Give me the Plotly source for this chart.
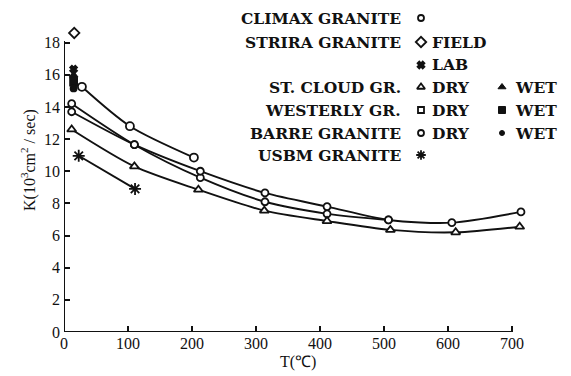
import plotly.graph_objects as go

# ---- data (T in °C, K in 10^-3 cm^2/sec) ----
climax_T = [28, 103, 203]
climax_K = [15.25, 12.8, 10.85]

strira_field_T = [16]
strira_field_K = [18.6]

lab_T = [15]
lab_K = [16.35]

stcloud_dry_T = [12, 110, 210, 313, 411, 510, 612, 712]
stcloud_dry_K = [12.6, 10.3, 8.85, 7.55, 6.9, 6.35, 6.2, 6.55]
stcloud_wet_T = [15]
stcloud_wet_K = [15.95]

westerly_dry_T = [12, 110, 213, 314, 411, 507]
westerly_dry_K = [14.2, 11.65, 9.6, 8.1, 7.35, 6.97]
westerly_wet_T = [15]
westerly_wet_K = [15.55]

barre_dry_T = [12, 110, 213, 314, 411, 507, 606, 714]
barre_dry_K = [13.7, 11.65, 10.0, 8.65, 7.8, 6.97, 6.8, 7.47]
barre_wet_T = [15]
barre_wet_K = [15.15]

usbm_T = [23, 111]
usbm_K = [10.96, 8.9]

x_ticks = [0, 100, 200, 300, 400, 500, 600, 700]
y_ticks = [0, 2, 4, 6, 8, 10, 12, 14, 16, 18]
x_axis_end = 700
y_axis_end = 18.1

legend_rows = [
    ("CLIMAX GRANITE", "", ""),
    ("STRIRA GRANITE", "FIELD", ""),
    ("", "LAB", ""),
    ("ST. CLOUD GR.", "DRY", "WET"),
    ("WESTERLY GR.", "DRY", "WET"),
    ("BARRE GRANITE", "DRY", "WET"),
    ("USBM GRANITE", "", ""),
]

# ---- layout geometry (pixels) ----
W, H = 571, 376
L, R, T, B = 64, 11, 6, 44
PW, PH = W - L - R, H - T - B
X_PER_PX = 700 / 448.0      # data units per pixel (x)
Y_PER_PX = 18.1 / 291.0     # data units per pixel (y)

def px(x):
    return (x - L) / PW

def py(y):
    return (H - B - y) / PH

BLACK = "#111"
fig = go.Figure()

def line(xs, ys, sym, size=8, lw=1.9, shape="spline", mode="lines+markers", filled=False):
    fig.add_trace(go.Scatter(
        x=xs, y=ys, mode=mode, cliponaxis=False,
        line=dict(color=BLACK, width=lw, shape=shape, smoothing=0.8),
        marker=dict(symbol=sym, size=size, color=BLACK if filled else "white",
                    line=dict(color=BLACK, width=1.8)),
        showlegend=False, hoverinfo="skip"))

line(climax_T, climax_K, "circle", 8)
line(westerly_dry_T, westerly_dry_K, "circle", 7)
line(barre_dry_T, barre_dry_K, "circle", 7)
line(stcloud_dry_T, stcloud_dry_K, "triangle-up", 8)
line(usbm_T, usbm_K, "asterisk-open", 10, shape="linear", filled=True)
line(strira_field_T, strira_field_K, "diamond", 8, mode="markers")
line(lab_T, lab_K, "x", 6, mode="markers", filled=True)
line(stcloud_wet_T, stcloud_wet_K, "triangle-up", 7, mode="markers", filled=True)
line(westerly_wet_T, westerly_wet_K, "square", 7, mode="markers", filled=True)
line(barre_wet_T, barre_wet_K, "circle", 6, mode="markers", filled=True)

# ---- legend (drawn on an overlay axis in pixel units) ----
row_y = [18, 42, 65, 87, 110, 133, 155]
col1_sym = [("circle-open", 6), ("diamond-open", 8), ("x", 6), ("triangle-up-open", 7),
            ("square-open", 6), ("circle-open", 6), ("asterisk-open", 8)]
col2_sym = [None, None, None, ("triangle-up", 7), ("square", 7), ("circle", 5), None]

for i, (s, sz) in enumerate(col1_sym):
    fig.add_trace(go.Scatter(x=[421], y=[row_y[i]], xaxis="x2", yaxis="y2", mode="markers",
                             cliponaxis=False, showlegend=False, hoverinfo="skip",
                             marker=dict(symbol=s, size=sz, color=BLACK,
                                         line=dict(color=BLACK, width=1.8))))
for i, c in enumerate(col2_sym):
    if c is None:
        continue
    s, sz = c
    fig.add_trace(go.Scatter(x=[502], y=[row_y[i]], xaxis="x2", yaxis="y2", mode="markers",
                             cliponaxis=False, showlegend=False, hoverinfo="skip",
                             marker=dict(symbol=s, size=sz, color=BLACK,
                                         line=dict(color=BLACK, width=1))))

LFONT = dict(family="DejaVu Serif", size=15.5, color=BLACK)
ann = []
for i, (name, c1, c2) in enumerate(legend_rows):
    if name:
        ann.append(dict(x=px(403), y=py(row_y[i]), xref="paper", yref="paper", text="<b>%s</b>" % name,
                        xanchor="right", yanchor="middle", showarrow=False, font=LFONT))
    if c1:
        ann.append(dict(x=px(430), y=py(row_y[i]), xref="paper", yref="paper", text="<b>%s</b>" % c1,
                        xanchor="left", yanchor="middle", showarrow=False, font=LFONT))
    if c2:
        ann.append(dict(x=px(513), y=py(row_y[i]), xref="paper", yref="paper", text="<b>%s</b>" % c2,
                        xanchor="left", yanchor="middle", showarrow=False, font=LFONT))

TFONT = dict(family="Liberation Serif", size=16, color=BLACK)
ann.append(dict(x=px(28), y=py(160), xref="paper", yref="paper",
                text="K(10<sup>3</sup>cm<sup>2</sup> / sec)", textangle=-90,
                xanchor="center", yanchor="middle", showarrow=False, font=TFONT))
ann.append(dict(x=px(298), y=py(362), xref="paper", yref="paper", text="T(℃)",
                xanchor="center", yanchor="middle", showarrow=False, font=TFONT))

shapes = [
    dict(type="line", xref="x", yref="y", x0=0, x1=x_axis_end, y0=0, y1=0,
         line=dict(color=BLACK, width=2)),
    dict(type="line", xref="x", yref="y", x0=0, x1=0, y0=0, y1=y_axis_end,
         line=dict(color=BLACK, width=2)),
]

x_max = PW * X_PER_PX
y_max = PH * Y_PER_PX

fig.update_layout(
    width=W, height=H, margin=dict(l=L, r=R, t=T, b=B),
    paper_bgcolor="white", plot_bgcolor="white",
    annotations=ann, shapes=shapes,
    xaxis=dict(range=[0, x_max], tickvals=x_ticks, ticktext=[str(v) for v in x_ticks],
               showgrid=False, zeroline=False, showline=False,
               ticks="inside", ticklen=6, tickwidth=1.5, tickcolor=BLACK,
               tickfont=TFONT, fixedrange=True),
    yaxis=dict(range=[0, y_max], tickvals=y_ticks, ticktext=[str(v) for v in y_ticks],
               showgrid=False, zeroline=False, showline=False,
               ticks="inside", ticklen=6, tickwidth=1.5, tickcolor=BLACK,
               tickfont=TFONT, fixedrange=True, ticklabelstandoff=3),
    xaxis2=dict(overlaying="x", range=[L, W - R], visible=False, fixedrange=True),
    yaxis2=dict(overlaying="y", range=[H - B, T], visible=False, fixedrange=True),
)

fig.write_html("out.html", post_script="document.body.style.margin='0px';",
               config={"displayModeBar": False})
